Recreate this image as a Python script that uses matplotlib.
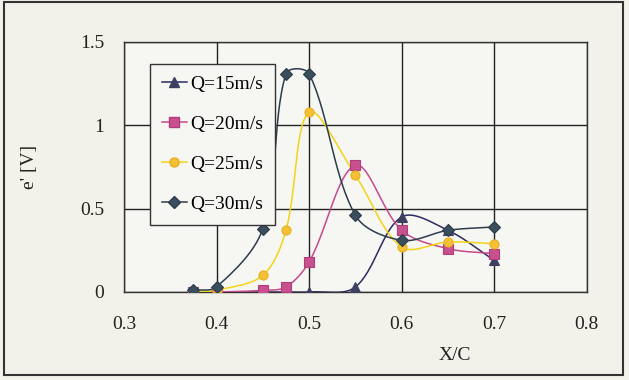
import numpy as np
import matplotlib
matplotlib.use("Agg")
import matplotlib.pyplot as plt
from matplotlib.patches import Rectangle

# data
xc = [0.375, 0.4, 0.45, 0.475, 0.5, 0.55, 0.6, 0.65, 0.7]
q15 = [0.0, 0.0, 0.0, 0.0, 0.0, 0.03, 0.45, 0.37, 0.19]
q20 = [0.0, 0.0, 0.01, 0.03, 0.18, 0.76, 0.37, 0.26, 0.23]
q25 = [0.0, 0.01, 0.10, 0.37, 1.08, 0.70, 0.27, 0.30, 0.29]
q30 = [0.01, 0.03, 0.38, 1.31, 1.31, 0.46, 0.31, 0.37, 0.39]
labels = ["Q=15m/s", "Q=20m/s", "Q=25m/s", "Q=30m/s"]

XSCALE = 926.0   # px per x unit, for the smoothing in screen space
YSCALE = 166.7   # px per y unit


def smooth(x, y, n=30):
    # spreadsheet-style smoothed line: Bezier through the points, with
    # control arms weighted by neighbouring segment lengths (screen space)
    p = np.column_stack([np.asarray(x, float) * XSCALE, np.asarray(y, float) * YSCALE])
    m = len(p)
    t = np.linspace(0, 1, n)[:, None]
    out = []
    for i in range(m - 1):
        a, b = p[i], p[i + 1]
        seg = np.linalg.norm(b - a)
        if i > 0:
            prev = np.linalg.norm(a - p[i - 1])
            c1 = a + (b - p[i - 1]) * seg / (prev + seg) / 3
        else:
            c1 = a + (b - a) / 3
        if i + 2 < m:
            nxt = np.linalg.norm(p[i + 2] - b)
            c2 = b - (p[i + 2] - a) * seg / (seg + nxt) / 3
        else:
            c2 = b - (b - a) / 3
        bz = ((1 - t) ** 3) * a + 3 * ((1 - t) ** 2) * t * c1 + 3 * (1 - t) * t ** 2 * c2 + t ** 3 * b
        out.append(bz)
    out = np.concatenate(out)
    return out[:, 0] / XSCALE, out[:, 1] / YSCALE


plt.rcParams["font.family"] = ["Liberation Serif", "DejaVu Serif"]

bg = "#f3f2ea"
fig = plt.figure(figsize=(6.29, 3.80), dpi=100, facecolor=bg)
fig.patches.append(Rectangle((0.006, 0.012), 0.984, 0.982, transform=fig.transFigure,
                             fill=False, edgecolor="#333333", lw=1.5))

ax = fig.add_axes([0.197, 0.2316, 0.736, 0.658])
ax.set_facecolor("#f6f6f2")

styles = [
    (q15, "#2e2b60", "^", "#3d4060", "#3d4060"),
    (q20, "#c44a8c", "s", "#c8508e", "#b03c7c"),
    (q25, "#f2d418", "o", "#f5c035", "#e8b020"),
    (q30, "#2d3c4c", "D", "#3a4e5e", "#2d3c4c"),
]

for (vals, lc, mk, mfc, mec), lab in zip(styles, labels):
    sx, sy = smooth(xc, vals)
    ax.plot(sx, sy, color=lc, lw=1.1, zorder=3)
    ax.plot(xc, vals, ls="none", marker=mk, ms=6.5, mfc=mfc, mec=mec, mew=0.8, zorder=4)
    # legend handle
    ax.plot([], [], color=lc, lw=1.1, marker=mk, ms=6.5, mfc=mfc, mec=mec, label=lab)

ax.set_xlim(0.3, 0.8)
ax.set_ylim(0, 1.5)
ax.set_xticks([0.3, 0.4, 0.5, 0.6, 0.7, 0.8])
ax.set_xticklabels(["0.3", "0.4", "0.5", "0.6", "0.7", "0.8"])
ax.set_yticks([0, 0.5, 1, 1.5])
ax.set_yticklabels(["0", "0.5", "1", "1.5"])
ax.tick_params(length=0, labelsize=14, colors="#222222")
ax.tick_params(axis="x", pad=17)
ax.tick_params(axis="y", pad=14)
ax.grid(True, color="#222222", lw=1.0)
ax.set_axisbelow(True)
for s in ax.spines.values():
    s.set_color("#333333")
    s.set_linewidth(1.0)

ax.set_ylabel("e' [V]", fontsize=14, color="#222222")
ax.yaxis.set_label_coords(-0.185, 0.5)
ax.set_xlabel("X/C", fontsize=14, color="#222222")
ax.xaxis.set_label_coords(0.715, -0.22)

leg = ax.legend(loc="upper left", bbox_to_anchor=(0.056, 0.912), borderaxespad=0,
                fontsize=14, handlelength=1.3, handletextpad=0.2, labelspacing=1.15,
                borderpad=0.6, fancybox=False, framealpha=1, facecolor="#f6f6f2",
                edgecolor="#333333")
leg.get_frame().set_linewidth(1.0)

fig.savefig("out.png", dpi=100, facecolor=bg)
